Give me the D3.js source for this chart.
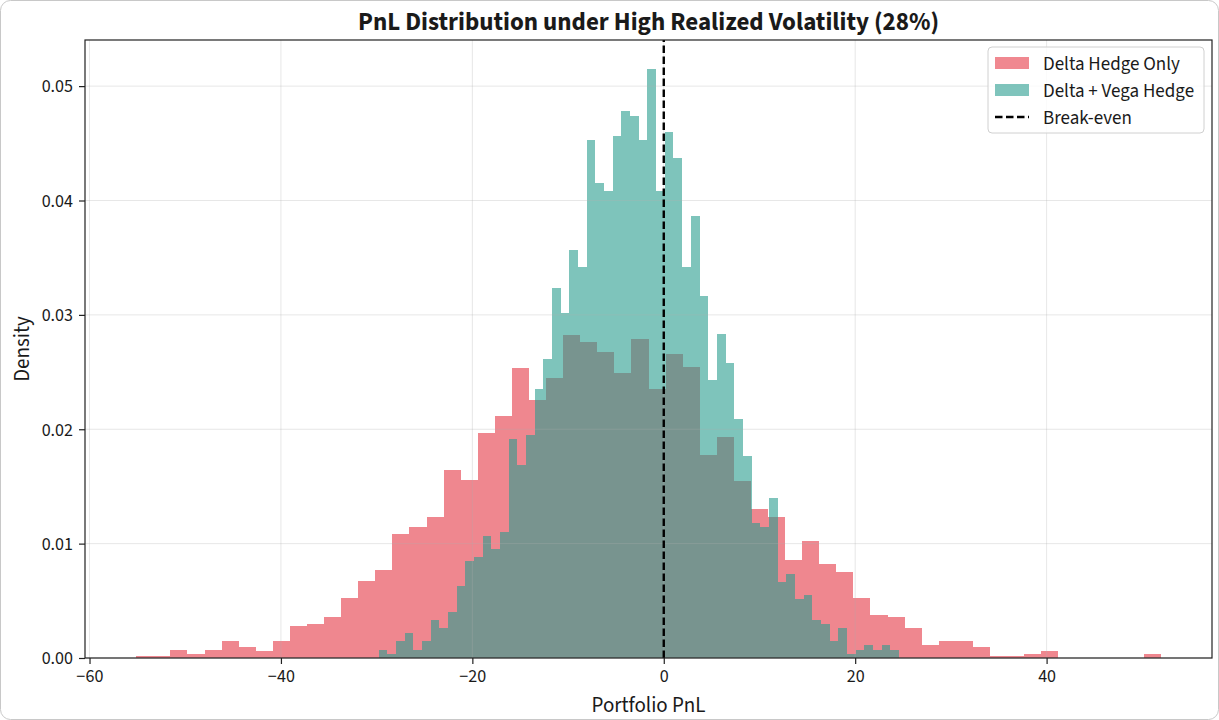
<!DOCTYPE html>
<html>
<head>
<meta charset="utf-8">
<script src="https://cdn.jsdelivr.net/npm/d3@7"></script>
<style>
    body { margin: 0; background: #fff; }
    svg text { font-family: "Source Sans Pro", "Source Sans 3", Lato, "Noto Sans", sans-serif; fill: #1a1a1a; }
</style>
</head>
<body>
<div id="chart"></div>
<script>
// densities, 60 bins each
const deltaOnly = [
    0.0002, 0.0002, 0.00073, 0.00035, 0.00073, 0.00151, 0.00096, 0.00058, 0.00151, 0.00282,
    0.00297, 0.00356, 0.00522, 0.00673, 0.00766, 0.01087, 0.01142, 0.01235, 0.01646, 0.01553,
    0.01964, 0.02115, 0.02538, 0.02255, 0.02445, 0.02823, 0.02762, 0.02672, 0.02494, 0.02788,
    0.02351, 0.02655, 0.02541, 0.01774, 0.01929, 0.0155, 0.01305, 0.01233, 0.00857, 0.01023,
    0.00822, 0.00752, 0.00522, 0.00376, 0.00358, 0.00265, 0.00111, 0.00151, 0.00151, 0.00096,
    0.0002, 0.0002, 0.00036, 0.0006, 0, 0, 0, 0, 0, 0.00035
];
const deltaVega = [
    0.00073, 0.00035, 0.00146, 0.00219, 0.0007, 0.00146, 0.00332, 0.00265, 0.00402, 0.00629,
    0.00845, 0.00883, 0.01066, 0.00953, 0.01104, 0.01914, 0.0169, 0.01947, 0.02349, 0.02611,
    0.03232, 0.03013, 0.03564, 0.0342, 0.04525, 0.04155, 0.04082, 0.0456, 0.04779, 0.04738,
    0.04525, 0.05146, 0.04082, 0.04595, 0.04373, 0.0342, 0.03861, 0.03162, 0.0243, 0.0283,
    0.02576, 0.02092, 0.01766, 0.01183, 0.01142, 0.01399, 0.00667, 0.00734, 0.00516, 0.00548,
    0.00332, 0.00297, 0.00146, 0.00262, 0.00038, 0.00073, 0.00111, 0.00073, 0.00111, 0.00073
];
// histogram ranges (first left edge, last right edge)
const deltaOnlyRange = [-55.12, 51.93];
const deltaVegaRange = [-29.80, 24.58];
const breakEven = 0;

const xTicks = [-60, -40, -20, 0, 20, 40];
const yTicks = [0, 0.01, 0.02, 0.03, 0.04, 0.05];
const legendLabels = ["Delta Hedge Only", "Delta + Vega Hedge", "Break-even"];

const width = 1219, height = 720;
const margin = {left: 85, right: 7, top: 40, bottom: 62};

const svg = d3.select("#chart")
    .append("svg")
    .attr("width", width)
    .attr("height", height);

// card frame
svg.append("rect")
    .attr("x", 0.5).attr("y", 0.5)
    .attr("width", width - 1).attr("height", height - 1)
    .attr("rx", 10)
    .attr("fill", "#fff")
    .attr("stroke", "#c8c8c8");

// matplotlib style 5% padding
const allLo = Math.min(deltaOnlyRange[0], deltaVegaRange[0]);
const allHi = Math.max(deltaOnlyRange[1], deltaVegaRange[1]);
const pad = (allHi - allLo) * 0.05;
const yMax = d3.max([...deltaOnly, ...deltaVega]) * 1.05;

const x = d3.scaleLinear()
    .domain([allLo - pad, allHi + pad])
    .range([margin.left, width - margin.right]);
const y = d3.scaleLinear()
    .domain([0, yMax])
    .range([height - margin.bottom, margin.top]);

function toBins(values, range) {
    const w = (range[1] - range[0]) / values.length;
    return values.map((v, i) => ({x0: range[0] + i * w, x1: range[0] + (i + 1) * w, v: v}));
}

function drawHist(values, range, color) {
    svg.append("g")
        .attr("opacity", 0.6)
        .attr("shape-rendering", "crispEdges")
        .selectAll("rect")
        .data(toBins(values, range).filter(d => d.v > 0))
        .join("rect")
        .attr("x", d => x(d.x0))
        .attr("width", d => x(d.x1) - x(d.x0))
        .attr("y", d => y(d.v))
        .attr("height", d => y(0) - y(d.v))
        .attr("fill", color);
}

drawHist(deltaOnly, deltaOnlyRange, "#e63946");
drawHist(deltaVega, deltaVegaRange, "#2a9d8f");

// grid sits above the bars, like matplotlib
const grid = svg.append("g").attr("stroke", "#b0b0b0").attr("stroke-opacity", 0.3).attr("stroke-width", 1);
grid.selectAll("line.gx")
    .data(xTicks)
    .join("line")
    .attr("class", "gx")
    .attr("x1", d => x(d)).attr("x2", d => x(d))
    .attr("y1", y.range()[0]).attr("y2", y.range()[1]);
grid.selectAll("line.gy")
    .data(yTicks)
    .join("line")
    .attr("class", "gy")
    .attr("x1", x.range()[0]).attr("x2", x.range()[1])
    .attr("y1", d => y(d)).attr("y2", d => y(d));

// break-even line
svg.append("line")
    .attr("x1", x(breakEven)).attr("x2", x(breakEven))
    .attr("y1", y.range()[0]).attr("y2", y.range()[1])
    .attr("stroke", "#000")
    .attr("stroke-width", 2.4)
    .attr("stroke-dasharray", "7.5,3.5");

// axes
const xAxis = svg.append("g")
    .attr("transform", `translate(0,${height - margin.bottom})`)
    .call(d3.axisBottom(x).tickValues(xTicks).tickSize(6).tickPadding(5)
        .tickFormat(d => d < 0 ? "\u2212" + Math.abs(d) : d));
const yAxis = svg.append("g")
    .attr("transform", `translate(${margin.left},0)`)
    .call(d3.axisLeft(y).tickValues(yTicks).tickSize(6).tickPadding(6).tickFormat(d3.format(".2f")));

[xAxis, yAxis].forEach(a => {
    a.select(".domain").remove();
    a.selectAll(".tick line").attr("stroke", "#222").attr("stroke-width", 1.2);
    a.selectAll(".tick text").style("font-size", "18px").attr("fill", "#1a1a1a");
});

// spines
svg.append("rect")
    .attr("x", x.range()[0]).attr("y", y.range()[1])
    .attr("width", x.range()[1] - x.range()[0])
    .attr("height", y.range()[0] - y.range()[1])
    .attr("fill", "none")
    .attr("stroke", "#222")
    .attr("stroke-width", 1.2);

// labels
svg.append("text")
    .attr("x", (x.range()[0] + x.range()[1]) / 2)
    .attr("y", 30)
    .attr("text-anchor", "middle")
    .style("font-size", "25px")
    .style("font-weight", "bold")
    .text("PnL Distribution under High Realized Volatility (28%)");

svg.append("text")
    .attr("x", (x.range()[0] + x.range()[1]) / 2)
    .attr("y", 712)
    .attr("text-anchor", "middle")
    .style("font-size", "21px")
    .text("Portfolio PnL");

svg.append("text")
    .attr("transform", `translate(29,${(y.range()[0] + y.range()[1]) / 2}) rotate(-90)`)
    .attr("text-anchor", "middle")
    .style("font-size", "21px")
    .text("Density");

// legend
const lg = svg.append("g").attr("transform", "translate(988,47)");
lg.append("rect")
    .attr("width", 216).attr("height", 86)
    .attr("rx", 4)
    .attr("fill", "#fff").attr("fill-opacity", 0.8)
    .attr("stroke", "#d0d0d0");

const legendColors = ["#e63946", "#2a9d8f"];
legendColors.forEach((c, i) => {
    lg.append("rect")
        .attr("x", 7).attr("y", 10 + i * 27)
        .attr("width", 34).attr("height", 12)
        .attr("fill", c).attr("opacity", 0.6);
});
lg.append("line")
    .attr("x1", 7).attr("x2", 41)
    .attr("y1", 70).attr("y2", 70)
    .attr("stroke", "#000").attr("stroke-width", 2.4)
    .attr("stroke-dasharray", "7.5,3.5");

lg.selectAll("text.lab")
    .data(legendLabels)
    .join("text")
    .attr("class", "lab")
    .attr("x", 55)
    .attr("y", (d, i) => 23 + i * 27)
    .style("font-size", "19px")
    .text(d => d);
</script>
</body>
</html>
